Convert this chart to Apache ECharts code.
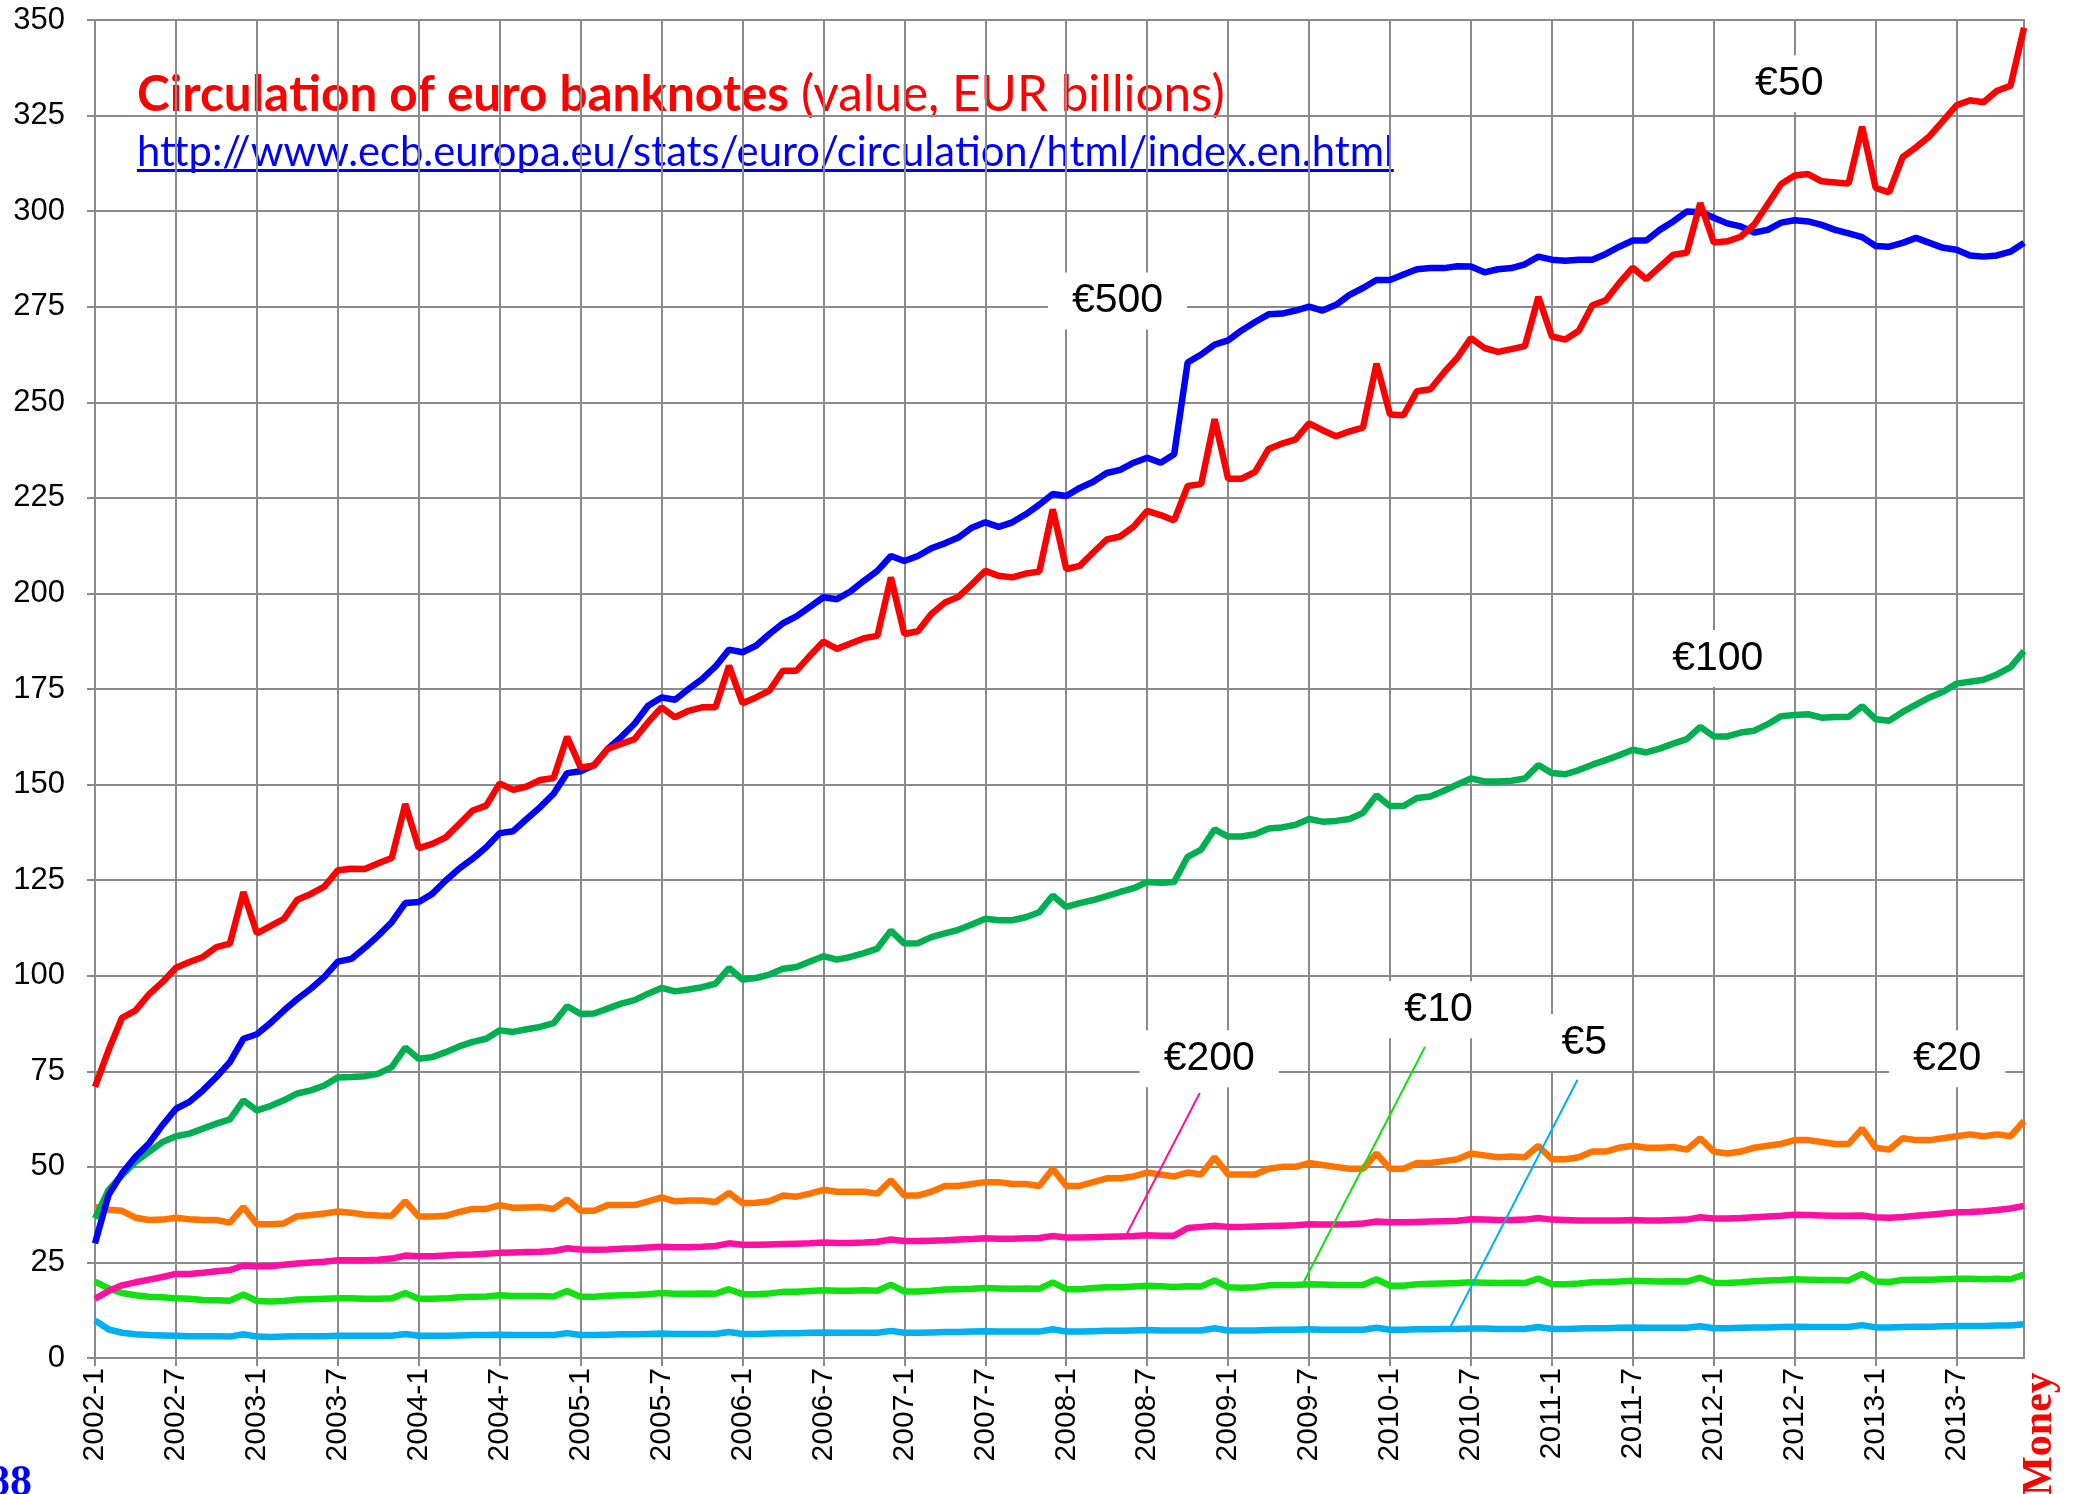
<!DOCTYPE html>
<html>
<head>
<meta charset="utf-8">
<title>Circulation of euro banknotes</title>
<script src="https://cdn.jsdelivr.net/npm/echarts@6/dist/echarts.min.js"></script>
<style>
  html, body { margin: 0; padding: 0; background: #fff; overflow: hidden; }
  #main { width: 2078px; height: 1494px; }
</style>
</head>
<body>
<div id="main"></div>
<script>
// month labels 2002-1 ... 2013-12
var months = [];
for (var yr = 2002; yr <= 2013; yr++) {
    for (var mo = 1; mo <= 12; mo++) months.push(yr + '-' + mo);
}

// EUR billions, one value per month
var eur50 = [70.9,80.5,89.0,90.9,95.1,98.3,102.1,103.6,104.9,107.5,108.4,121.9,
    111.1,113.0,114.9,119.9,121.4,123.3,127.6,128.0,127.9,129.4,130.8,144.9,
    133.4,134.5,136.2,139.7,143.2,144.5,150.3,148.6,149.5,151.2,151.7,162.5,
    154.5,155.0,159.3,160.6,161.9,166.3,170.2,167.6,169.3,170.2,170.2,181.1,
    171.3,172.8,174.6,179.8,179.8,183.7,187.4,185.5,186.9,188.3,188.9,204.2,
    189.4,190.1,194.6,197.6,199.1,202.4,205.9,204.6,204.2,205.2,205.7,222.0,
    206.4,207.2,210.7,214.1,214.9,217.5,221.6,220.5,219.1,228.1,228.6,245.6,
    230.0,230.0,231.8,237.8,239.2,240.3,244.5,242.7,241.1,242.4,243.4,260.1,
    246.8,246.6,252.9,253.4,257.8,261.7,266.8,264.2,263.2,263.9,264.7,277.6,
    267.2,266.4,268.7,275.4,276.7,281.2,285.2,282.2,285.4,288.6,289.1,302.1,
    291.8,292.1,293.3,296.5,301.8,307.1,309.3,309.7,307.8,307.5,307.2,322.1,
    306.1,304.9,314.1,316.7,319.6,323.6,327.7,329.0,328.5,331.5,332.8,348.0];

var eur500 = [30.0,42.6,48.3,52.6,56.1,60.9,65.2,67.0,70.0,73.5,77.4,83.5,
    84.7,87.6,90.9,93.9,96.6,99.7,103.7,104.4,107.3,110.5,114.0,119.0,
    119.3,121.4,124.9,128.0,130.6,133.6,137.3,137.8,141.0,144.1,147.6,153.0,
    153.5,155.1,159.3,162.4,165.9,170.6,172.8,172.2,175.0,177.6,180.9,185.3,
    184.6,186.3,189.4,192.2,194.0,196.5,199.0,198.5,200.5,203.3,205.9,209.8,
    208.5,209.8,211.8,213.1,214.6,217.2,218.6,217.4,218.6,220.7,223.2,226.0,
    225.5,227.6,229.2,231.5,232.3,234.2,235.5,234.2,236.4,260.4,262.5,265.1,
    266.2,268.8,271.0,273.0,273.2,274.0,275.0,274.0,275.5,278.1,279.9,282.0,
    282.0,283.4,284.8,285.1,285.1,285.6,285.5,284.0,284.8,285.1,286.1,288.1,
    287.3,287.0,287.3,287.3,288.8,290.7,292.3,292.3,295.1,297.3,299.9,299.7,
    298.3,296.8,296.0,294.4,295.1,297.0,297.6,297.3,296.4,295.1,294.2,293.2,
    290.9,290.7,291.7,293.0,291.7,290.4,289.9,288.4,288.1,288.4,289.4,291.7];

var eur100 = [36.5,43.9,47.8,51.3,53.9,56.5,58.0,58.7,60.0,61.3,62.4,67.4,
    64.8,65.9,67.4,69.2,70.0,71.3,73.4,73.5,73.7,74.4,76.1,81.2,
    78.3,78.7,80.0,81.5,82.7,83.5,85.7,85.3,86.0,86.6,87.6,92.0,
    90.0,90.1,91.4,92.7,93.6,95.3,96.8,95.9,96.4,97.0,97.9,102.0,
    99.0,99.4,100.3,101.8,102.3,103.7,105.1,104.2,104.9,105.9,107.1,111.8,
    108.4,108.5,110.1,111.1,112.0,113.4,114.9,114.5,114.5,115.3,116.6,121.0,
    118.0,119.0,119.8,120.8,121.9,122.9,124.5,124.3,124.5,131.1,133.0,138.3,
    136.4,136.4,137.0,138.5,138.8,139.5,141.0,140.3,140.5,141.0,142.6,147.2,
    144.4,144.4,146.5,146.9,148.4,150.0,151.6,150.8,150.8,151.0,151.6,155.1,
    153.0,152.7,153.8,155.2,156.4,157.7,159.1,158.4,159.4,160.7,161.9,165.1,
    162.6,162.6,163.6,164.1,165.8,167.9,168.2,168.4,167.5,167.7,167.7,170.5,
    167.1,166.7,169.0,170.9,172.8,174.3,176.4,176.9,177.4,178.8,180.7,184.9];

var eur20 = [39.5,38.8,38.5,36.7,36.1,36.2,36.7,36.3,36.1,36.1,35.4,39.5,
    35.0,35.0,35.2,37.1,37.4,37.8,38.3,38.0,37.5,37.3,37.2,41.0,
    37.0,37.0,37.2,38.2,39.0,39.0,40.0,39.3,39.4,39.5,39.0,41.5,
    38.5,38.5,40.0,40.0,40.0,41.0,42.0,41.0,41.2,41.2,40.8,43.2,
    40.5,40.6,41.0,42.5,42.2,43.0,44.0,43.5,43.5,43.5,43.0,46.5,
    42.5,42.5,43.5,45.0,45.0,45.5,46.0,46.0,45.5,45.5,45.0,49.5,
    45.0,45.0,46.0,47.0,47.0,47.5,48.5,48.0,47.5,48.5,48.0,52.5,
    48.0,48.0,48.0,49.5,50.0,50.0,51.0,50.5,50.0,49.5,49.5,53.5,
    49.5,49.5,51.0,51.0,51.5,52.0,53.5,53.0,52.5,52.7,52.5,55.5,
    52.0,52.0,52.5,54.0,54.0,55.0,55.5,55.0,55.0,55.2,54.5,57.5,
    54.0,53.5,54.0,55.0,55.5,56.0,57.0,57.0,56.5,56.0,56.0,60.0,
    55.0,54.5,57.5,57.0,57.0,57.5,58.0,58.5,58.0,58.5,58.0,62.0];

var eur200 = [15.5,17.5,19.0,19.8,20.5,21.2,22.0,22.0,22.3,22.7,23.0,24.2,
    24.0,24.0,24.4,24.7,25.0,25.2,25.6,25.6,25.6,25.7,26.0,26.8,
    26.6,26.6,26.8,27.0,27.1,27.3,27.5,27.6,27.7,27.8,28.0,28.7,
    28.4,28.3,28.4,28.6,28.7,28.9,29.1,29.0,29.0,29.1,29.3,30.0,
    29.6,29.6,29.7,29.8,29.9,30.0,30.2,30.1,30.1,30.2,30.4,31.0,
    30.6,30.6,30.7,30.8,31.0,31.1,31.3,31.2,31.2,31.3,31.4,31.9,
    31.5,31.5,31.6,31.7,31.8,31.9,32.1,32.0,32.0,34.0,34.3,34.6,
    34.3,34.3,34.4,34.5,34.6,34.7,35.0,34.9,34.9,35.0,35.2,35.7,
    35.5,35.5,35.6,35.7,35.8,35.9,36.3,36.2,36.1,36.1,36.2,36.6,
    36.2,36.1,36.0,36.0,36.0,36.0,36.1,36.0,36.0,36.1,36.2,36.8,
    36.5,36.5,36.6,36.8,37.0,37.2,37.5,37.4,37.3,37.2,37.2,37.3,
    36.8,36.7,36.9,37.2,37.5,37.8,38.1,38.2,38.4,38.7,39.1,39.8];

var eur10 = [20.0,18.2,17.0,16.4,16.0,15.9,15.6,15.5,15.2,15.1,15.0,16.6,
    14.9,14.8,14.9,15.3,15.4,15.5,15.6,15.6,15.5,15.5,15.6,17.0,
    15.5,15.5,15.6,15.9,16.0,16.1,16.4,16.2,16.2,16.2,16.1,17.5,
    16.0,16.0,16.3,16.4,16.5,16.7,17.0,16.8,16.8,16.9,16.8,18.0,
    16.7,16.7,16.9,17.3,17.3,17.5,17.7,17.6,17.6,17.7,17.6,19.2,
    17.4,17.4,17.6,17.9,18.0,18.1,18.3,18.2,18.1,18.2,18.1,19.8,
    18.0,18.0,18.3,18.5,18.5,18.7,18.9,18.8,18.6,18.8,18.7,20.3,
    18.5,18.4,18.5,19.0,19.1,19.1,19.3,19.2,19.1,19.1,19.1,20.6,
    18.9,18.9,19.3,19.4,19.5,19.6,19.8,19.7,19.6,19.7,19.6,20.8,
    19.3,19.3,19.5,19.8,19.9,20.0,20.2,20.1,20.0,20.1,20.0,21.0,
    19.7,19.6,19.8,20.1,20.3,20.4,20.6,20.5,20.4,20.4,20.3,22.0,
    20.0,19.9,20.4,20.5,20.5,20.6,20.7,20.7,20.6,20.7,20.6,21.8];

var eur5 = [9.8,7.5,6.6,6.2,6.0,5.9,5.8,5.7,5.7,5.7,5.6,6.2,
    5.6,5.5,5.6,5.7,5.7,5.7,5.8,5.8,5.8,5.8,5.8,6.3,
    5.8,5.8,5.8,5.9,6.0,6.0,6.1,6.0,6.0,6.0,6.0,6.5,
    6.0,6.0,6.1,6.2,6.2,6.3,6.4,6.3,6.3,6.3,6.3,6.8,
    6.3,6.3,6.4,6.5,6.5,6.6,6.7,6.6,6.6,6.6,6.6,7.1,
    6.6,6.6,6.7,6.8,6.8,6.9,7.0,6.9,6.9,6.9,6.9,7.5,
    6.9,6.9,7.0,7.1,7.1,7.2,7.3,7.2,7.2,7.2,7.2,7.8,
    7.2,7.2,7.2,7.3,7.4,7.4,7.5,7.4,7.4,7.4,7.4,7.9,
    7.4,7.4,7.5,7.5,7.6,7.6,7.7,7.7,7.6,7.6,7.6,8.1,
    7.6,7.6,7.7,7.8,7.8,7.9,8.0,7.9,7.9,7.9,7.9,8.3,
    7.8,7.8,7.9,8.0,8.0,8.1,8.2,8.1,8.1,8.1,8.1,8.6,
    8.0,8.0,8.1,8.2,8.2,8.3,8.4,8.4,8.4,8.5,8.5,8.8];

function pts(arr) {
    return arr.map(function (v, i) { return [i, v]; });
}

// measure text so the title lines get the width they have in the picture
var ctx = document.createElement('canvas').getContext('2d');
function fitSize(font, text, target) {
    ctx.font = font.replace('SIZE', '100px');
    return 100 * target / ctx.measureText(text).width;
}
var titleSize = fitSize('bold SIZE Lato', 'Circulation of euro banknotes ', 664);
var urlA = 'http://www.ecb.europa.eu/stats/euro/circula';
var urlB = 'tion/html/index.en.html';
var urlSize = fitSize('SIZE Lato', urlA + urlB, 1257);
ctx.font = urlSize + 'px Lato';
var urlWidth = ctx.measureText(urlA).width + ctx.measureText(urlB).width;

var myChart = echarts.init(document.getElementById('main'));

var noteLabel = {
    show: true,
    position: 'inside',
    fontFamily: 'Liberation Sans',
    fontSize: 41,
    color: '#000',
    backgroundColor: '#fff',
    padding: [8, 24]
};

function note(text, m, v) {
    return {
        symbol: 'rect',
        symbolSize: 1,
        silent: true,
        itemStyle: { color: 'transparent' },
        label: noteLabel,
        data: [{ coord: [m, v], value: text, label: { formatter: text } }]
    };
}

function leader(color, a, b) {
    return {
        silent: true,
        symbol: 'none',
        label: { show: false },
        lineStyle: { color: color, width: 2, type: 'solid' },
        data: [[{ coord: a }, { coord: b }]]
    };
}

function lineSeries(name, data, color, extra) {
    var s = {
        name: name,
        type: 'line',
        data: pts(data),
        showSymbol: false,
        symbol: 'none',
        lineStyle: { color: color, width: 6.5 },
        itemStyle: { color: color },
        emphasis: { disabled: true }
    };
    for (var k in extra) s[k] = extra[k];
    return s;
}

var option = {
    animation: false,
    backgroundColor: '#fff',
    grid: {
        left: 95,
        right: 54,
        top: 20,
        bottom: 136,
        show: true,
        borderColor: '#8a8a8a',
        borderWidth: 2
    },
    xAxis: {
        type: 'value',
        min: 0,
        max: 143,
        interval: 6,
        axisLine: { lineStyle: { color: '#8a8a8a', width: 2 } },
        axisTick: { show: true, length: 8, lineStyle: { color: '#8a8a8a', width: 2 } },
        splitLine: { show: true, lineStyle: { color: '#8a8a8a', width: 2 } },
        axisLabel: {
            rotate: 90,
            margin: 10,
            fontFamily: 'Liberation Sans',
            fontSize: 30,
            color: '#000',
            showMaxLabel: false,
            formatter: function (v) { return months[v] || ''; }
        }
    },
    yAxis: {
        type: 'value',
        min: 0,
        max: 350,
        interval: 25,
        axisLine: { show: true, lineStyle: { color: '#8a8a8a', width: 2 } },
        axisTick: { show: true, length: 8, lineStyle: { color: '#8a8a8a', width: 2 } },
        splitLine: { show: true, lineStyle: { color: '#8a8a8a', width: 2 } },
        axisLabel: {
            margin: 30,
            fontFamily: 'Liberation Sans',
            fontSize: 31,
            color: '#000'
        }
    },
    graphic: [
        {
            type: 'text',
            x: 137,
            y: 95,
            style: {
                // split tokens so Lato does not draw the "ti" ligature
                text: '{b|Circula}{b|tion of euro banknotes }{r|(value, EUR billions)}',
                verticalAlign: 'middle',
                rich: {
                    b: { fontFamily: 'Lato', fontWeight: 'bold', fontSize: titleSize, fill: '#ff0000' },
                    r: { fontFamily: 'Lato', fontSize: titleSize, fill: '#ff0000' }
                }
            }
        },
        {
            type: 'text',
            x: 137,
            y: 153,
            style: {
                text: '{u|' + urlA + '}{u|' + urlB + '}',
                verticalAlign: 'middle',
                rich: {
                    u: { fontFamily: 'Lato', fontSize: urlSize, fill: '#0000ff' }
                }
            }
        },
        {
            type: 'rect',
            x: 137,
            y: 169,
            shape: { x: 0, y: 0, width: urlWidth, height: 3 },
            style: { fill: '#0000ff' }
        },
        {
            type: 'text',
            x: -12,
            y: 1462,
            style: {
                text: '88',
                fontFamily: 'Liberation Serif',
                fontWeight: 'bold',
                fontSize: 44,
                fill: '#0000ff'
            }
        },
        {
            type: 'text',
            x: 2040,
            y: 1434,
            rotation: Math.PI / 2,
            style: {
                text: 'Money',
                fontFamily: 'Liberation Serif',
                fontWeight: 'bold',
                fontSize: 42,
                fill: '#ff0000',
                align: 'center',
                verticalAlign: 'middle'
            }
        }
    ],
    series: [
        lineSeries('€5', eur5, '#00b0f0', {
            markLine: leader('#00b0f0', [100.4, 7.6], [109.9, 72.8]),
            markPoint: note('€5', 110.4, 82.5)
        }),
        lineSeries('€10', eur10, '#11e011', {
            markLine: leader('#11e011', [89.6, 19.8], [98.6, 81.4]),
            markPoint: note('€10', 99.6, 91.1)
        }),
        lineSeries('€200', eur200, '#ff10a0', {
            markLine: leader('#ff10a0', [76.3, 31.2], [81.9, 69.3]),
            markPoint: note('€200', 82.6, 78.3)
        }),
        lineSeries('€20', eur20, '#ff7300', {
            markPoint: note('€20', 137.3, 78.3)
        }),
        lineSeries('€100', eur100, '#00b050', {
            markPoint: note('€100', 120.3, 183.0)
        }),
        lineSeries('€500', eur500, '#0000ff', {
            markPoint: note('€500', 75.8, 276.5)
        }),
        lineSeries('€50', eur50, '#ff0000', {
            markPoint: note('€50', 125.6, 333.3)
        })
    ]
};
myChart.setOption(option);
</script>
</body>
</html>
